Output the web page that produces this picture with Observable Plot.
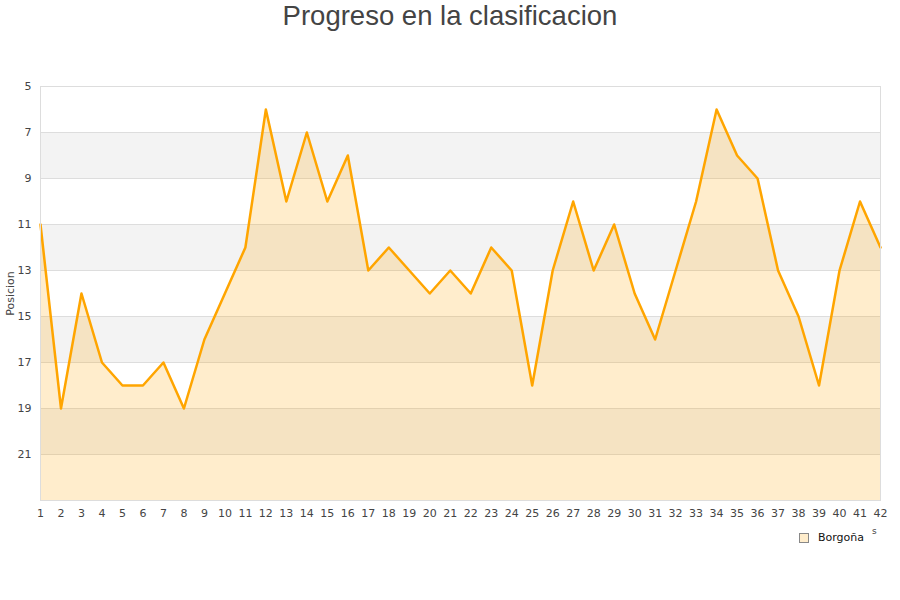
<!DOCTYPE html>
<html>
<head>
<meta charset="utf-8">
<script src="https://cdn.jsdelivr.net/npm/d3@7"></script>
<script src="https://cdn.jsdelivr.net/npm/@observablehq/plot@0.6"></script>
<style>
  html, body { margin: 0; padding: 0; background: #fff; }
  #wrap { position: relative; width: 900px; height: 600px; }
  #title { height: 40px; text-align: center; font-family: "Liberation Sans", Arial, sans-serif;
           font-size: 27.5px; color: #444; line-height: 32px; }
  #chart svg { display: block; }
  #legend { position: absolute; left: 799px; top: 531px; font-family: "DejaVu Sans", sans-serif;
            font-size: 11px; color: #111; display: flex; align-items: center; }
  #legend .sw { width: 8px; height: 8px; background: #ffedcc; border: 1px solid #888; margin-right: 9px; }
  #frag { position: absolute; left: 872px; top: 526px; font-family: "DejaVu Sans", sans-serif; font-size: 9px; color: #444; }
</style>
</head>
<body>
<div id="wrap">
  <div id="title">Progreso en la clasificacion</div>
  <div id="chart"></div>
  <div id="legend"><span class="sw"></span><span>Borgoña</span></div>
  <div id="frag">s</div>
</div>
<script>
const jornadas = d3.range(1, 43);
const posiciones = [11, 19, 14, 17, 18, 18, 17, 19, 16, 14, 12, 6, 10, 7, 10, 8, 13, 12, 13, 14, 13,
                    14, 12, 13, 18, 13, 10, 13, 11, 14, 16, 13, 10, 6, 8, 9, 13, 15, 18, 13, 10, 12];
const yTicks = [5, 7, 9, 11, 13, 15, 17, 19, 21];
const bandStarts = [7, 11, 15, 19];
const serie = "Borgoña";
const yLabel = "Posicion";

const data = jornadas.map((j, i) => ({jornada: j, pos: posiciones[i]}));
const bands = bandStarts.map(s => ({y1: s, y2: s + 2}));

const chart = Plot.plot({
  width: 900,
  height: 520,
  marginTop: 46,
  marginBottom: 60,
  marginLeft: 40,
  marginRight: 20,
  style: {fontFamily: "DejaVu Sans, sans-serif", fontSize: "11px", color: "#444", background: "#fff"},
  x: {domain: [1, 42], ticks: jornadas, tickSize: 0, tickPadding: 9, label: null, tickFormat: d => d},
  y: {domain: [5, 23], reverse: true, ticks: yTicks, tickSize: 0, tickPadding: 9, label: null},
  marks: [
    Plot.rect(bands, {y1: "y1", y2: "y2", fill: "#f3f3f3"}),
    Plot.gridY(yTicks, {stroke: "#dddddd", strokeOpacity: 1}),
    Plot.areaY(data, {x: "jornada", y1: 23, y2: "pos", fill: "#ffa500", fillOpacity: 0.2}),
    Plot.line(data, {x: "jornada", y: "pos", stroke: "#ffa500", strokeWidth: 2.5}),
    Plot.frame({stroke: "#dddddd"}),
    Plot.axisX({ticks: jornadas, tickSize: 0, tickPadding: 9, label: null, fill: "#444"}),
    Plot.axisY({ticks: yTicks, tickSize: 0, tickPadding: 9, label: null, fill: "#444"}),
    Plot.text([yLabel], {frameAnchor: "left", textAnchor: "middle", rotate: -90, dx: -30, fill: "#444", fontSize: 11})
  ]
});
document.getElementById("chart").appendChild(chart);
</script>
</body>
</html>
